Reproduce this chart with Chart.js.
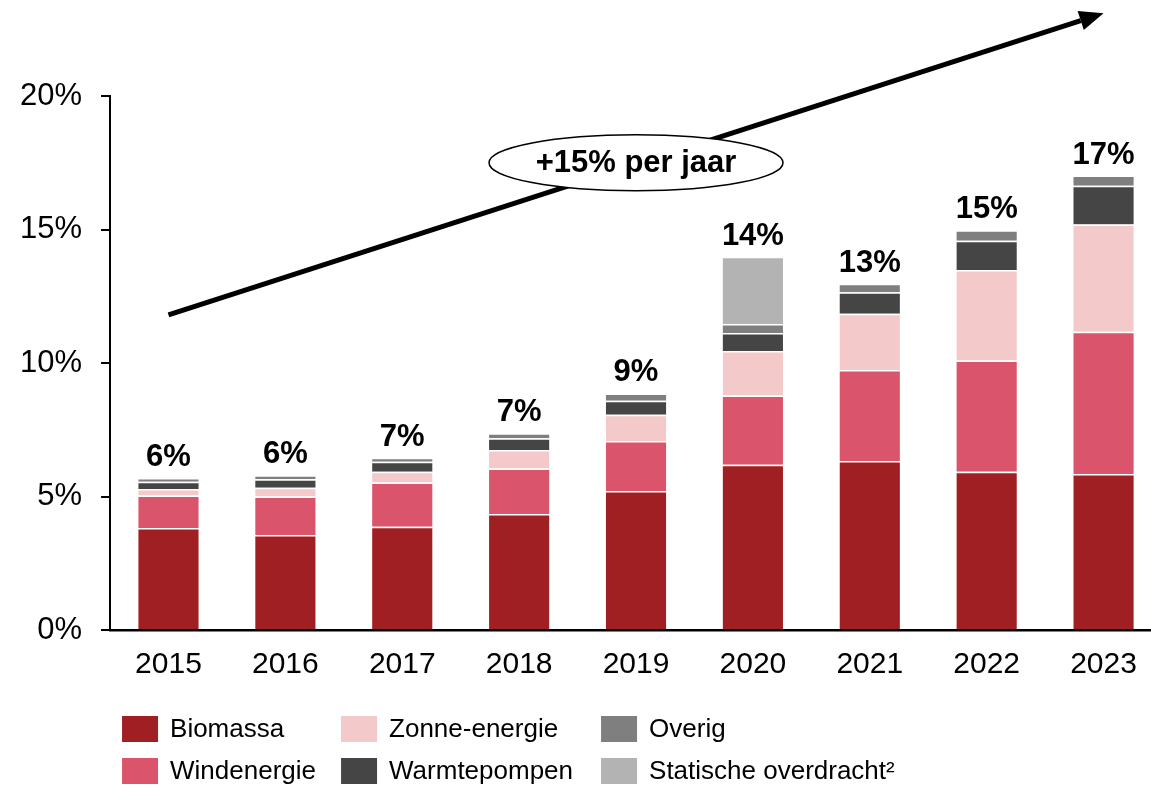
<!DOCTYPE html>
<html>
<head>
<meta charset="utf-8">
<script src="https://cdn.jsdelivr.net/npm/chart.js@4/dist/chart.umd.min.js"></script>
<style>
  html, body { margin: 0; padding: 0; background: #fff; overflow: hidden; }
  #wrap { width: 1162px; height: 787px; position: relative; }
</style>
</head>
<body>
<div id="wrap"><canvas id="myChart"></canvas></div>
<script>
const years = ['2015', '2016', '2017', '2018', '2019', '2020', '2021', '2022', '2023'];

const biomassa    = [3.82, 3.56, 3.87, 4.34, 5.21, 6.19, 6.33, 5.93, 5.84];
const windenergie = [1.22, 1.44, 1.65, 1.71, 1.87, 2.59, 3.41, 4.16, 5.33];
const zonne       = [0.24, 0.33, 0.41, 0.69, 0.98, 1.67, 2.10, 3.39, 4.02];
const warmte      = [0.27, 0.32, 0.37, 0.44, 0.53, 0.67, 0.81, 1.10, 1.45];
const overig      = [0.14, 0.15, 0.15, 0.19, 0.27, 0.34, 0.32, 0.39, 0.38];
const statisch    = [null, null, null, null, null, 2.52, null, null, null];

const totalLabels = ['6%', '6%', '7%', '7%', '9%', '14%', '13%', '15%', '17%'];
const yTicks = [0, 5, 10, 15, 20];
const growthText = '+15% per jaar';

Chart.defaults.font.family = "'Liberation Sans', Arial, sans-serif";
Chart.defaults.color = '#000';

const totalsPlugin = {
  id: 'totals',
  afterDatasetsDraw(chart) {
    const ctx = chart.ctx;
    ctx.save();
    ctx.font = "bold 31px 'Liberation Sans', Arial";
    ctx.fillStyle = '#000';
    ctx.textAlign = 'center';
    ctx.textBaseline = 'alphabetic';
    years.forEach((y, i) => {
      let top = Infinity, x = 0;
      chart.data.datasets.forEach((ds, d) => {
        if (ds.data[i] == null) return;
        const el = chart.getDatasetMeta(d).data[i];
        if (el.y < top) { top = el.y; x = el.x; }
      });
      ctx.fillText(totalLabels[i], x, top - 12);
    });
    ctx.restore();
  }
};

const arrowPlugin = {
  id: 'arrow',
  afterDraw(chart) {
    const ctx = chart.ctx;
    const xs = chart.scales.x, ys = chart.scales.y;
    const x0 = xs.getPixelForValue(0), y0 = ys.getPixelForValue(11.8);
    const x1 = xs.getPixelForValue(8), y1 = ys.getPixelForValue(23.1);
    const ang = Math.atan2(y1 - y0, x1 - x0);
    const headLen = 24, headW = 10;
    const bx = x1 - headLen * Math.cos(ang), by = y1 - headLen * Math.sin(ang);
    ctx.save();
    ctx.strokeStyle = '#000';
    ctx.lineWidth = 5;
    ctx.beginPath();
    ctx.moveTo(x0, y0);
    ctx.lineTo(bx, by);
    ctx.stroke();
    ctx.fillStyle = '#000';
    ctx.beginPath();
    ctx.moveTo(x1, y1);
    ctx.lineTo(bx + headW * Math.sin(ang), by - headW * Math.cos(ang));
    ctx.lineTo(bx - headW * Math.sin(ang), by + headW * Math.cos(ang));
    ctx.closePath();
    ctx.fill();

    // ellips met groeitekst
    const cx = xs.getPixelForValue(4), cy = ys.getPixelForValue(17.5);
    ctx.beginPath();
    ctx.ellipse(cx, cy, 147, 28, 0, 0, Math.PI * 2);
    ctx.fillStyle = '#fff';
    ctx.fill();
    ctx.lineWidth = 1.5;
    ctx.stroke();
    ctx.fillStyle = '#000';
    ctx.font = "bold 31px 'Liberation Sans', Arial";
    ctx.textAlign = 'center';
    ctx.textBaseline = 'middle';
    ctx.fillText(growthText, cx, cy + 1);
    ctx.restore();
  }
};

const legendPlugin = {
  id: 'gridLegend',
  afterDraw(chart) {
    const ctx = chart.ctx;
    const left = chart.chartArea.left;
    const base = chart.chartArea.bottom;
    const cols = [12, 231, 491];
    const rows = [99, 141];
    const order = [[0, 1], [2, 3], [4, 5]];
    ctx.save();
    ctx.font = "26px 'Liberation Sans', Arial";
    ctx.textAlign = 'left';
    ctx.textBaseline = 'middle';
    order.forEach((col, c) => {
      col.forEach((d, r) => {
        const ds = chart.data.datasets[d];
        const x = left + cols[c], y = base + rows[r];
        ctx.fillStyle = ds.backgroundColor;
        ctx.fillRect(x, y - 13, 36, 26);
        ctx.fillStyle = '#000';
        ctx.fillText(ds.label, x + 48, y + 1);
      });
    });
    ctx.restore();
  }
};

const seg = (label, data, color) => ({
  label: label,
  data: data,
  backgroundColor: color,
  borderColor: '#fff',
  borderWidth: 1.5,
  categoryPercentage: 1,
  barPercentage: 0.54
});

new Chart(
  document.getElementById('myChart'),
  {
    type: 'bar',
    data: {
      labels: years,
      datasets: [
        seg('Biomassa', biomassa, '#A01F22'),
        seg('Windenergie', windenergie, '#DA546B'),
        seg('Zonne-energie', zonne, '#F4C9CA'),
        seg('Warmtepompen', warmte, '#454545'),
        seg('Overig', overig, '#7F7F7F'),
        seg('Statische overdracht²', statisch, '#B3B3B3')
      ]
    },
    options: {
      animation: false,
      responsive: true,
      maintainAspectRatio: false,
      layout: { padding: { left: 1, top: 96, right: 0, bottom: 87 } },
      scales: {
        x: {
          stacked: true,
          grid: { display: false, drawTicks: false },
          border: { display: true, color: '#000', width: 2.5 },
          ticks: { font: { size: 30 }, padding: 17, color: '#000' }
        },
        y: {
          stacked: true,
          min: 0,
          max: 20,
          afterBuildTicks: axis => { axis.ticks = yTicks.map(v => ({ value: v })); },
          grid: { drawOnChartArea: false, drawTicks: true, tickLength: 9, tickColor: '#000', lineWidth: 2 },
          border: { display: true, color: '#000', width: 2 },
          ticks: { font: { size: 31 }, padding: 19, color: '#000', callback: v => v + '%' }
        }
      },
      plugins: {
        legend: { display: false },
        tooltip: { enabled: false },
        title: { display: false }
      }
    },
    plugins: [totalsPlugin, arrowPlugin, legendPlugin]
  }
);
</script>
</body>
</html>
